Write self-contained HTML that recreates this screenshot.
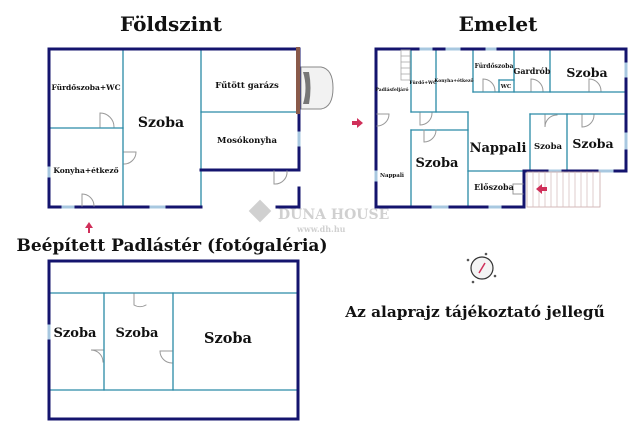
<!DOCTYPE html>
<html><head><meta charset="utf-8"><style>
html,body{margin:0;padding:0;background:#fff;width:640px;height:435px;overflow:hidden}
svg{display:block}
text{font-family:"DejaVu Serif","Liberation Serif",serif;font-weight:bold;fill:#111}
</style></head><body>
<svg width="640" height="435" viewBox="0 0 640 435">
<g font-size="20">
<text x="171" y="31" text-anchor="middle">Földszint</text>
<text x="498" y="31" text-anchor="middle">Emelet</text>
<text x="172" y="251" text-anchor="middle" font-size="17">Beépített Padlástér (fotógaléria)</text>
</g>
<text x="475" y="317" text-anchor="middle" font-size="15.3">Az alaprajz tájékoztató jellegű</text>

<!-- watermark -->
<g opacity="0.45">
<rect x="252" y="203" width="16" height="16" fill="#999" transform="rotate(45 260 211)"/>
<text x="278" y="219" font-size="14" font-weight="normal" style="fill:#999">DUNA HOUSE</text>
<text x="297" y="232" font-size="8" style="fill:#999" font-weight="normal">www.dh.hu</text>
</g>

<!-- Ground floor -->
<g fill="none" stroke-linecap="square">
<g stroke="#2a8aa6" stroke-width="1.3">
<line x1="123" y1="49" x2="123" y2="207"/>
<line x1="201" y1="49" x2="201" y2="207"/>
<line x1="49" y1="128" x2="123" y2="128"/>
<line x1="201" y1="112" x2="299" y2="112"/>
</g>
<g stroke="#14146e" stroke-width="3">
<polyline points="201,207 49,207 49,49 299,49 299,170 201,170"/>
<polyline points="277,207 299,207 299,188"/>
</g>
<line x1="298" y1="49" x2="298" y2="112" stroke="#8a5a4a" stroke-width="4"/>
<g stroke="#a8c8e0" stroke-width="3">
<line x1="49" y1="168" x2="49" y2="176"/>
<line x1="63" y1="207" x2="73" y2="207"/>
<line x1="151" y1="207" x2="164" y2="207"/>
<line x1="299" y1="133" x2="299" y2="145"/>
</g>
<g stroke="#999" stroke-width="1">
<path d="M100 127 V113 A14 14 0 0 1 114 127"/>
<path d="M82 206 V194 A12 12 0 0 1 94 206"/>
<path d="M124 152 H136 A12 12 0 0 1 124 164"/>
<path d="M274 171 V184 A12 12 0 0 0 287 171"/>
</g>
<!-- car -->
<path d="M301 67 h20 q12 2 12 21 q0 19 -12 21 h-20 z" fill="#f2f2f2" stroke="#888"/>
<path d="M303 72 q5 16 0 32 h6 q3 -16 0 -32 z" fill="#777"/>
</g>
<g>
<text x="86" y="90" text-anchor="middle" font-size="7.5">Fürdőszoba+WC</text>
<text x="86" y="173" text-anchor="middle" font-size="7.5">Konyha+étkező</text>
<text x="161" y="127" text-anchor="middle" font-size="14">Szoba</text>
<text x="247" y="88" text-anchor="middle" font-size="8.5">Fűtött garázs</text>
<text x="247" y="143" text-anchor="middle" font-size="8.5">Mosókonyha</text>
</g>
<path d="M89 222 l-4 6 h3 v5 h2 v-5 h3 z" fill="#d0305a"/>
<path d="M352 121 h5 v-3 l6 5 l-6 5 v-3 h-5 z" fill="#d0305a"/>

<!-- Upper floor -->
<g fill="none" stroke-linecap="square">
<g stroke="#2a8aa6" stroke-width="1.3">
<line x1="411" y1="49" x2="411" y2="112"/>
<line x1="436" y1="49" x2="436" y2="112"/>
<line x1="411" y1="112" x2="468" y2="112"/>
<line x1="473" y1="49" x2="473" y2="92"/>
<line x1="499" y1="80" x2="499" y2="92"/>
<line x1="499" y1="80" x2="514" y2="80"/>
<line x1="514" y1="49" x2="514" y2="92"/>
<line x1="550" y1="49" x2="550" y2="92"/>
<line x1="473" y1="92" x2="626" y2="92"/>
<line x1="530" y1="114" x2="626" y2="114"/>
<line x1="530" y1="114" x2="530" y2="171"/>
<line x1="567" y1="114" x2="567" y2="171"/>
<line x1="411" y1="130" x2="468" y2="130"/>
<line x1="411" y1="130" x2="411" y2="207"/>
<line x1="468" y1="112" x2="468" y2="207"/>
<line x1="468" y1="171" x2="524" y2="171"/>
</g>
<g stroke="#14146e" stroke-width="3">
<polyline points="524,207 376,207 376,49 626,49 626,171 524,171 524,207"/>
</g>
<g stroke="#a8c8e0" stroke-width="3">
<line x1="421" y1="49" x2="431" y2="49"/>
<line x1="447" y1="49" x2="459" y2="49"/>
<line x1="487" y1="49" x2="495" y2="49"/>
<line x1="626" y1="64" x2="626" y2="76"/>
<line x1="626" y1="134" x2="626" y2="148"/>
<line x1="376" y1="172" x2="376" y2="180"/>
<line x1="433" y1="207" x2="447" y2="207"/>
<line x1="490" y1="207" x2="500" y2="207"/>
<line x1="550" y1="171" x2="560" y2="171"/>
<line x1="600" y1="171" x2="612" y2="171"/>
</g>
<g stroke="#aaa" stroke-width="0.8">
<rect x="401" y="50" width="9" height="30"/>
<line x1="401" y1="56" x2="410" y2="56"/><line x1="401" y1="62" x2="410" y2="62"/>
<line x1="401" y1="68" x2="410" y2="68"/><line x1="401" y1="74" x2="410" y2="74"/>
<rect x="527" y="172" width="73" height="35" stroke="#c8a8a8"/>
<path d="M533 172v35M539 172v35M545 172v35M551 172v35M557 172v35M563 172v35M569 172v35M575 172v35M581 172v35M587 172v35M593 172v35" stroke="#d8c0c0"/>
</g>
<g stroke="#999" stroke-width="1">
<path d="M377 114 H389 A12 12 0 0 1 377 126"/>
<path d="M420 113 V125 A12 12 0 0 0 432 113"/>
<path d="M424 130 V142 A12 12 0 0 0 436 130"/>
<path d="M483 91 V79 A12 12 0 0 1 495 91"/>
<path d="M531 91 V79 A12 12 0 0 1 543 91"/>
<path d="M589 91 V79 A12 12 0 0 1 601 91"/>
<path d="M545 115 V127 A12 12 0 0 1 557 115" />
<path d="M582 115 V127 A12 12 0 0 0 594 115"/>
<path d="M523 184 H513 V194 H523"/>
</g>
</g>
<g>
<text x="392" y="91" text-anchor="middle" font-size="4.5">Padlásfeljáró</text>
<text x="423" y="84" text-anchor="middle" font-size="4.5">Fürdő+WC</text>
<text x="454" y="82" text-anchor="middle" font-size="4.5">Konyha+étkező</text>
<text x="494" y="68" text-anchor="middle" font-size="6">Fürdőszoba</text>
<text x="506" y="88" text-anchor="middle" font-size="5.5">WC</text>
<text x="532" y="74" text-anchor="middle" font-size="8">Gardrób</text>
<text x="587" y="77" text-anchor="middle" font-size="12.5">Szoba</text>
<text x="498" y="152" text-anchor="middle" font-size="13">Nappali</text>
<text x="548" y="149" text-anchor="middle" font-size="8.5">Szoba</text>
<text x="593" y="148" text-anchor="middle" font-size="12.5">Szoba</text>
<text x="437" y="167" text-anchor="middle" font-size="13">Szoba</text>
<text x="392" y="177" text-anchor="middle" font-size="5.5">Nappali</text>
<text x="494" y="190" text-anchor="middle" font-size="8">Előszoba</text>
</g>
<path d="M536 189 l6 -5 v3 h5 v4 h-5 v3 z" fill="#d0305a"/>

<!-- compass -->
<circle cx="482" cy="268" r="11" fill="#f4f4f4" stroke="#333" stroke-width="1.2"/>
<line x1="479" y1="273" x2="485" y2="263" stroke="#d0305a" stroke-width="1.5"/>
<g fill="#555"><circle cx="468" cy="260" r="1.3"/><circle cx="486" cy="254" r="1.3"/><circle cx="495" cy="276" r="1.3"/><circle cx="473" cy="282" r="1.3"/></g>

<!-- Attic -->
<g fill="none" stroke-linecap="square">
<g stroke="#2a8aa6" stroke-width="1.3">
<line x1="49" y1="293" x2="298" y2="293"/>
<line x1="49" y1="390" x2="298" y2="390"/>
<line x1="104" y1="293" x2="104" y2="390"/>
<line x1="173" y1="293" x2="173" y2="390"/>
</g>
<rect x="49" y="261" width="249" height="158" stroke="#14146e" stroke-width="3"/>
<line x1="49" y1="326" x2="49" y2="338" stroke="#a8c8e0" stroke-width="3"/>
<g stroke="#999" stroke-width="1">
<path d="M134 294 V305 A12 12 0 0 0 146 305"/>
<path d="M103 350 H91 A12 12 0 0 1 103 362"/>
<path d="M172 351 H160 A12 12 0 0 0 172 363"/>
</g>
</g>
<g font-size="13">
<text x="75" y="337" text-anchor="middle">Szoba</text>
<text x="137" y="337" text-anchor="middle">Szoba</text>
<text x="228" y="343" text-anchor="middle" font-size="14.5">Szoba</text>
</g>
</svg>
</body></html>
